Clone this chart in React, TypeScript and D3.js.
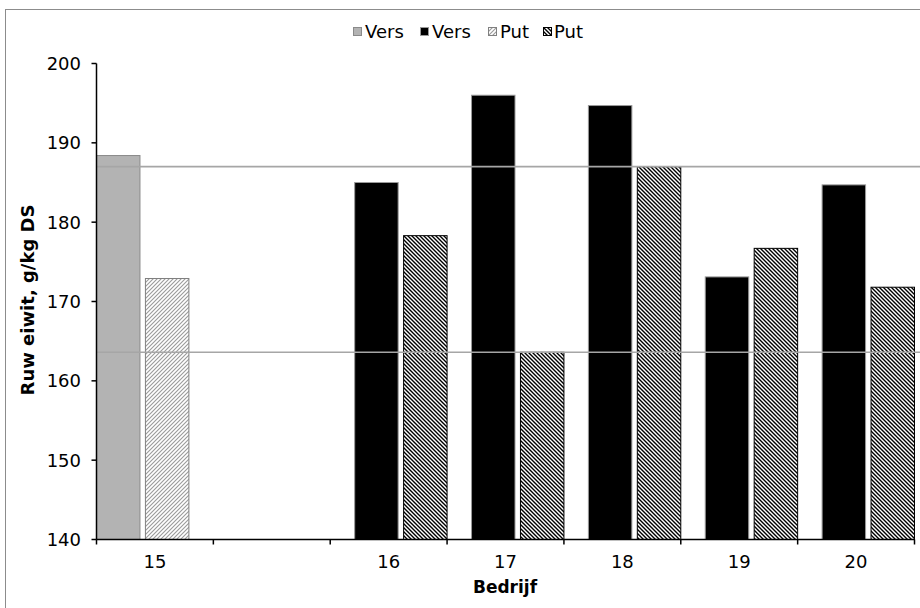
import React from "react";
import * as d3 from "d3";

const categories = ["15", "", "16", "17", "18", "19", "20"];
const seriesNames = ["Vers", "Vers", "Put", "Put"];
const versGray: (number | null)[] = [188.4, null, null, null, null, null, null];
const versBlack: (number | null)[] = [null, null, 185.0, 196.0, 194.7, 173.1, 184.7];
const putLight: (number | null)[] = [172.9, null, null, null, null, null, null];
const putDark: (number | null)[] = [null, null, 178.3, 163.6, 187.0, 176.7, 171.8];
const refLines = [187.0, 163.6];
const yTicks = [140, 150, 160, 170, 180, 190, 200];

const W = 920;
const H = 608;
const FONT = "'DejaVu Sans', Verdana, sans-serif";

export default function App() {
  const x = d3
    .scaleBand<number>()
    .domain(categories.map((_, i) => i))
    .range([96.5, 914.5])
    .padding(0);
  const y = d3.scaleLinear().domain([140, 200]).range([539.5, 63.5]);
  const bw = x.bandwidth();
  const barW = bw * 0.372;
  const step = (bw - barW) / 3;

  const series = [versGray, versBlack, putLight, putDark];
  const fills = ["#b3b3b3", "#000000", "url(#hatchLight)", "url(#hatchDark)"];
  const strokes = ["#8a8a8a", "#9a9a9a", "#808080", "#000000"];

  const legendItems = [
    { sq: 353, tx: 365 },
    { sq: 420, tx: 432 },
    { sq: 488, tx: 500 },
    { sq: 543, tx: 554 },
  ];

  return (
    <svg
      width={W}
      height={H}
      style={{ position: "absolute", left: 0, top: 0, background: "#fff" }}
      fontFamily={FONT}
    >
      <defs>
        <pattern id="hatchLight" patternUnits="userSpaceOnUse" width="4" height="4">
          <rect width="4" height="4" fill="#fff" />
          <path d="M-1,1 L1,-1 M0,4 L4,0 M3,5 L5,3" stroke="#9a9a9a" strokeWidth="1.1" />
        </pattern>
        <pattern id="hatchDark" patternUnits="userSpaceOnUse" width="4" height="4">
          <rect width="4" height="4" fill="#fff" />
          <path d="M-1,3 L1,5 M0,0 L4,4 M3,-1 L5,1" stroke="#000" strokeWidth="1.4" />
        </pattern>
      </defs>

      <rect x={5.5} y={9.5} width={W} height={H} fill="#fff" stroke="#8c8c8c" strokeWidth={1} />

      {/* bars */}
      {series.map((vals, si) =>
        vals.map((v, ci) =>
          v == null ? null : (
            <rect
              key={`b${si}-${ci}`}
              x={(x(ci) as number) + si * step}
              y={y(v)}
              width={barW}
              height={y(140) - y(v)}
              fill={fills[si]}
              stroke={strokes[si]}
              strokeWidth={1}
            />
          )
        )
      )}

      {/* reference lines */}
      {refLines.map((v, i) => (
        <line
          key={`r${i}`}
          x1={96.5}
          x2={W}
          y1={y(v)}
          y2={y(v)}
          stroke="#a6a6a6"
          strokeWidth={1.6}
        />
      ))}

      {/* y axis */}
      <line x1={96.5} x2={96.5} y1={y(200)} y2={y(140)} stroke="#000" strokeWidth={1.5} />
      {yTicks.map((t) => (
        <g key={`yt${t}`}>
          <line x1={91.5} x2={96.5} y1={y(t)} y2={y(t)} stroke="#000" strokeWidth={1.5} />
          <text x={81} y={y(t) + 6.5} textAnchor="end" fontSize={18} fill="#000">
            {t}
          </text>
        </g>
      ))}

      {/* x axis */}
      <line x1={96.5} x2={914.5} y1={y(140)} y2={y(140)} stroke="#000" strokeWidth={1.5} />
      {categories.map((_, i) => (
        <line
          key={`xt${i}`}
          x1={x(i) as number}
          x2={x(i) as number}
          y1={y(140)}
          y2={y(140) + 5}
          stroke="#000"
          strokeWidth={1.5}
        />
      ))}
      <line x1={914.5} x2={914.5} y1={y(140)} y2={y(140) + 5} stroke="#000" strokeWidth={1.5} />
      {categories.map((c, i) => (
        <text
          key={`xl${i}`}
          x={(x(i) as number) + bw / 2}
          y={568}
          textAnchor="middle"
          fontSize={18}
          fill="#000"
        >
          {c}
        </text>
      ))}

      {/* axis titles */}
      <text x={505} y={593} textAnchor="middle" fontSize={17} fontWeight="bold" fill="#000">
        Bedrijf
      </text>
      <text
        transform={`translate(34,300) rotate(-90)`}
        textAnchor="middle"
        fontSize={18}
        fontWeight="bold"
        fill="#000"
      >
        Ruw eiwit, g/kg DS
      </text>

      {/* legend */}
      {legendItems.map((it, i) => (
        <g key={`lg${i}`}>
          <rect
            x={it.sq + 0.5}
            y={27.5}
            width={8}
            height={8}
            fill={fills[i]}
            stroke={strokes[i]}
            strokeWidth={1}
          />
          <text x={it.tx} y={38} fontSize={18} fill="#000">
            {seriesNames[i]}
          </text>
        </g>
      ))}
    </svg>
  );
}
